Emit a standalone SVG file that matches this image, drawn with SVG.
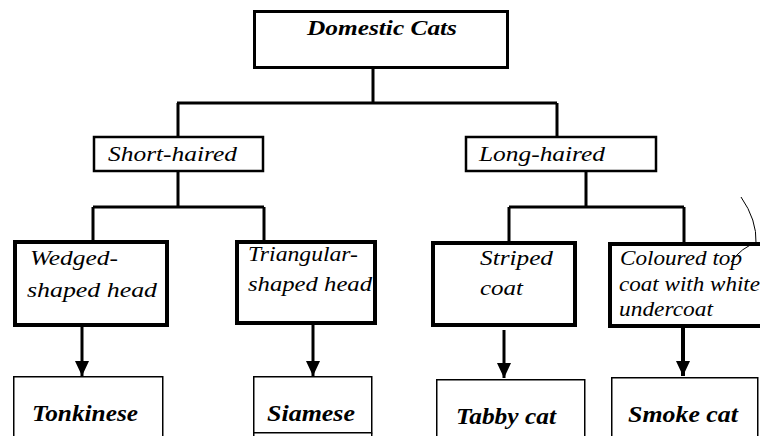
<svg xmlns="http://www.w3.org/2000/svg" width="760" height="436" viewBox="0 0 760 436">
<defs>
<style>
.c{stroke:#000;stroke-width:3;fill:none;}
.box1{fill:#fff;stroke:#000;stroke-width:3;}
.box2{fill:#fff;stroke:#000;stroke-width:2.5;}
.box3{fill:#fff;stroke:#000;stroke-width:4;}
.box4{fill:#fff;stroke:#000;stroke-width:1.5;}
</style>
<marker id="ah" markerUnits="userSpaceOnUse" markerWidth="16" markerHeight="14" refX="15" refY="7" orient="auto">
<path d="M0,0 L15,7 L0,14 Z" fill="#000"/>
</marker>
</defs>
<rect width="760" height="436" fill="#fff"/>
<g id="connectors">
<path class="c" d="M373,69 V103 M177,103 H557 M178,103 V136 M557,103 V136"/>
<path class="c" d="M178,172 V207 M93,207 H264 M93,207 V240 M264,207 V240"/>
<path class="c" d="M586,172 V207 M509,207 H684 M509,207 V241 M684,207 V242"/>
<line class="c" x1="82" y1="327" x2="82" y2="376" marker-end="url(#ah)"/>
<line class="c" x1="313" y1="325" x2="313" y2="376" marker-end="url(#ah)"/>
<line class="c" x1="504" y1="330" x2="504" y2="378" marker-end="url(#ah)"/>
<line x1="683" y1="328" x2="683" y2="376" stroke="#000" stroke-width="4" marker-end="url(#ah)"/>
</g>
<g font-family="Liberation Serif, serif" font-style="italic" fill="#000" lengthAdjust="spacingAndGlyphs">
<g id="domestic-cats">
<rect class="box1" x="254.5" y="11.5" width="253" height="56"/>
<text font-weight="bold" x="307" y="35" font-size="22" textLength="150" lengthAdjust="spacingAndGlyphs">Domestic Cats</text>
</g>
<g id="short-haired">
<rect class="box2" x="94" y="137" width="169" height="34"/>
<text x="108" y="161" font-size="22" textLength="129" lengthAdjust="spacingAndGlyphs">Short-haired</text>
</g>
<g id="long-haired">
<rect class="box2" x="466" y="137" width="190" height="34"/>
<text x="479" y="161" font-size="22" textLength="126" lengthAdjust="spacingAndGlyphs">Long-haired</text>
</g>
<g id="wedged">
<rect class="box3" x="15" y="242" width="152" height="83"/>
<text x="30" y="265" font-size="22" textLength="88" lengthAdjust="spacingAndGlyphs">Wedged-</text>
<text x="27" y="297" font-size="22" textLength="130" lengthAdjust="spacingAndGlyphs">shaped head</text>
</g>
<g id="triangular">
<rect class="box3" x="237" y="242" width="138" height="81"/>
<text x="248" y="261" font-size="22" textLength="110" lengthAdjust="spacingAndGlyphs">Triangular-</text>
<text x="248" y="291" font-size="22" textLength="124" lengthAdjust="spacingAndGlyphs">shaped head</text>
</g>
<g id="striped">
<rect class="box3" x="433" y="243" width="142" height="82"/>
<text x="480" y="265" font-size="22" textLength="73" lengthAdjust="spacingAndGlyphs">Striped</text>
<text x="480" y="295" font-size="22" textLength="43" lengthAdjust="spacingAndGlyphs">coat</text>
</g>
<g id="coloured">
<rect class="box3" x="610" y="244" width="160" height="82"/>
<text x="620" y="265" font-size="21" textLength="122" lengthAdjust="spacingAndGlyphs">Coloured top</text>
<text x="619" y="291" font-size="21" textLength="141" lengthAdjust="spacingAndGlyphs">coat with white</text>
<text x="619" y="316" font-size="21" textLength="94" lengthAdjust="spacingAndGlyphs">undercoat</text>
</g>
<g id="tonkinese">
<rect class="box4" x="13.75" y="376.75" width="149" height="70"/>
<text font-weight="bold" x="32" y="421" font-size="23" textLength="106" lengthAdjust="spacingAndGlyphs">Tonkinese</text>
</g>
<g id="siamese">
<rect class="box4" x="253.75" y="376.75" width="118" height="56"/>
<path d="M253.75,432.75 V440 M371.75,432.75 V440" stroke="#000" stroke-width="1.5"/>
<text font-weight="bold" x="267" y="421" font-size="23" textLength="88" lengthAdjust="spacingAndGlyphs">Siamese</text>
</g>
<g id="tabby">
<rect class="box4" x="436.75" y="379.75" width="148" height="70"/>
<text font-weight="bold" x="456" y="424" font-size="23" textLength="100" lengthAdjust="spacingAndGlyphs">Tabby cat</text>
</g>
<g id="smoke">
<rect class="box4" x="611.75" y="377.75" width="146" height="70"/>
<text font-weight="bold" x="628" y="422" font-size="23" textLength="110" lengthAdjust="spacingAndGlyphs">Smoke cat</text>
</g>
</g>
<path id="annotation" d="M741,197 Q757,220 756,243 Q742,247 731,262" fill="none" stroke="#000" stroke-width="1"/>
</svg>
